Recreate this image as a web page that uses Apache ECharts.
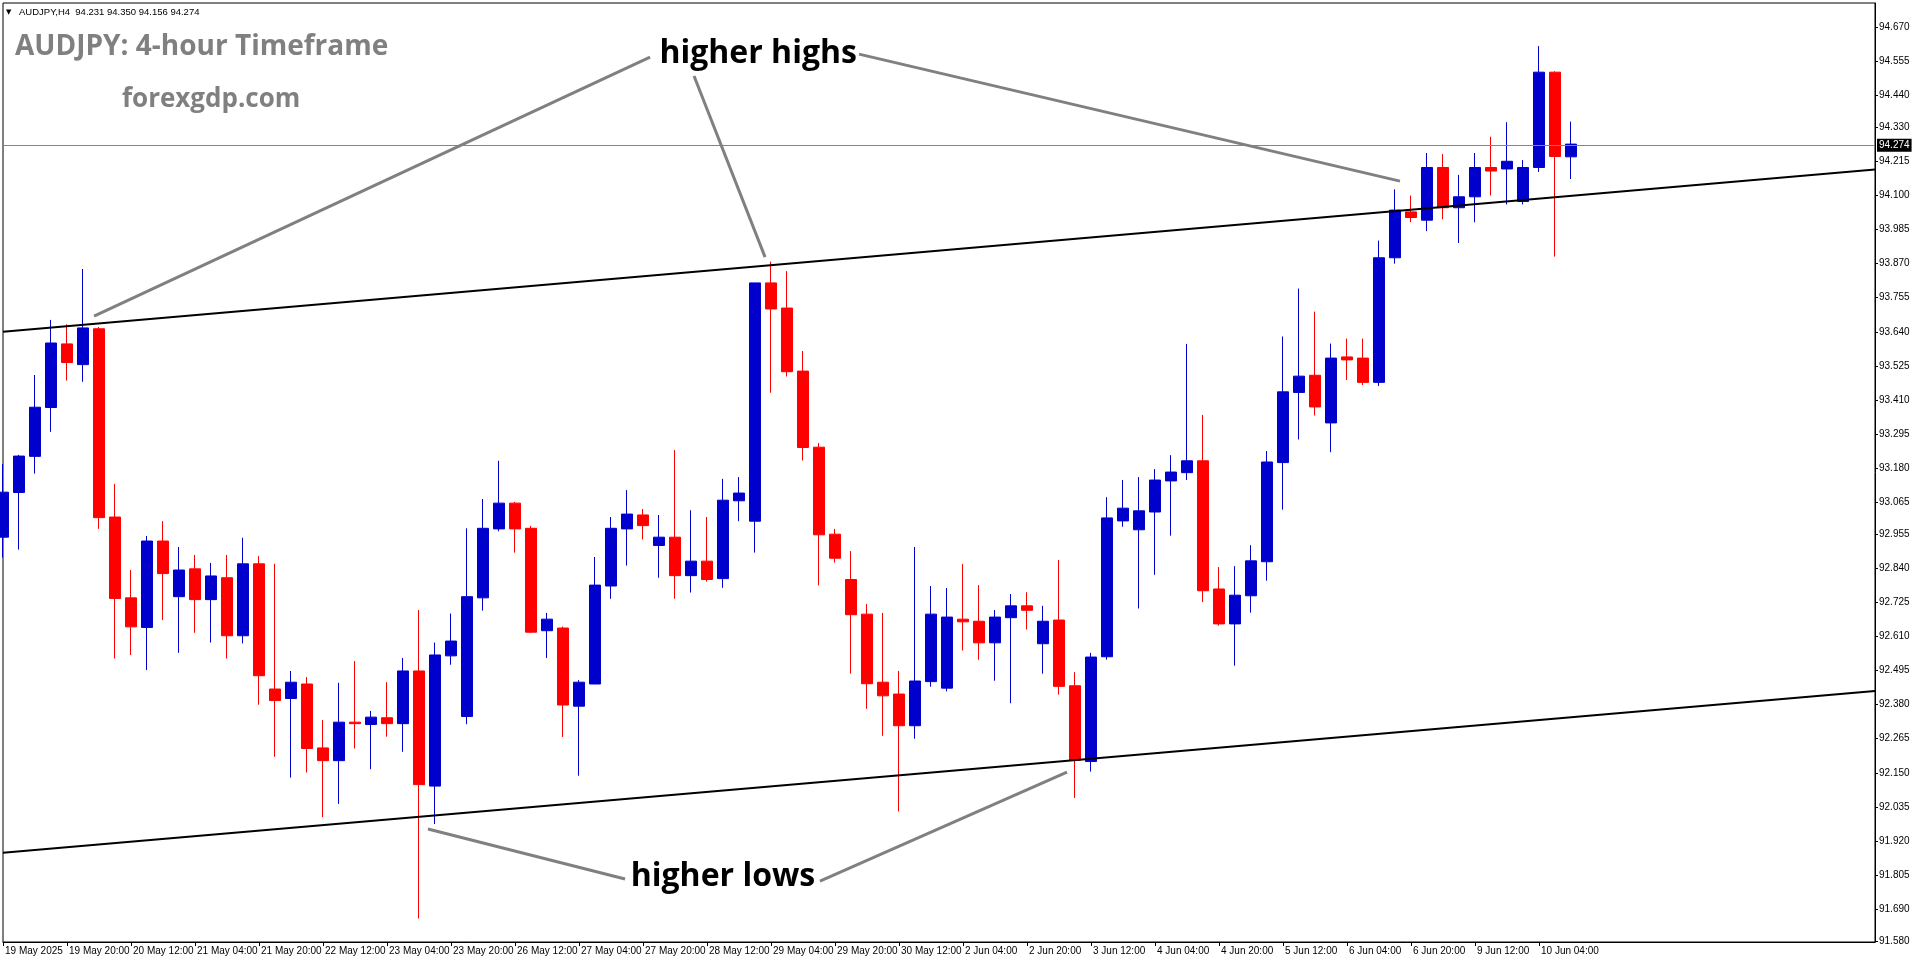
<!DOCTYPE html>
<html><head><meta charset="utf-8">
<script src="https://cdn.jsdelivr.net/npm/echarts@6/dist/echarts.min.js"></script>
<style>html,body{margin:0;padding:0;background:#fff;overflow:hidden}#c{width:1916px;height:964px;}</style>
</head><body><div id="c"></div>
<script>
// ---- data ----
const timeLabels = ['19 May 2025','19 May 20:00','20 May 12:00','21 May 04:00','21 May 20:00','22 May 12:00','23 May 04:00','23 May 20:00','26 May 12:00','27 May 04:00','27 May 20:00','28 May 12:00','29 May 04:00','29 May 20:00','30 May 12:00','2 Jun 04:00','2 Jun 20:00','3 Jun 12:00','4 Jun 04:00','4 Jun 20:00','5 Jun 12:00','6 Jun 04:00','6 Jun 20:00','9 Jun 12:00','10 Jun 04:00'];
const opens  = [92.946,93.097,93.219,93.384,93.599,93.529,93.650,93.014,92.741,92.641,92.933,92.745,92.839,92.735,92.809,92.613,92.856,92.433,92.401,92.450,92.234,92.191,92.321,92.313,92.336,92.316,92.494,92.105,92.545,92.340,92.741,92.974,93.061,92.976,92.630,92.639,92.375,92.450,92.781,92.974,93.021,92.918,92.946,92.816,92.865,92.806,93.069,93.000,93.805,93.720,93.507,93.250,92.956,92.803,92.686,92.456,92.416,92.309,92.458,92.436,92.669,92.662,92.589,92.674,92.714,92.586,92.666,92.444,92.188,92.542,93.001,92.971,93.031,93.136,93.164,93.204,92.771,92.653,92.748,92.863,93.198,93.435,93.493,93.332,93.555,93.551,93.469,93.890,94.045,94.017,94.195,94.059,94.096,94.195,94.190,94.080,94.195,94.517,94.231];
const highs  = [93.193,93.224,93.494,93.680,93.665,93.852,93.656,93.126,92.835,92.950,93.000,92.913,92.886,92.859,92.886,92.944,92.882,92.856,92.494,92.473,92.328,92.454,92.527,92.359,92.456,92.538,92.700,92.590,92.688,92.976,93.075,93.204,93.065,92.984,92.690,92.644,92.463,92.879,93.014,93.105,93.041,93.021,93.240,93.037,93.014,93.143,93.149,93.805,93.877,93.845,93.575,93.264,92.974,92.899,92.720,92.690,92.494,92.913,92.781,92.774,92.855,92.784,92.700,92.754,92.760,92.714,92.869,92.490,92.555,93.081,93.139,93.149,93.176,93.223,93.599,93.359,92.845,92.848,92.919,93.237,93.624,93.786,93.708,93.600,93.617,93.617,93.948,94.121,94.100,94.244,94.240,94.170,94.244,94.299,94.348,94.220,94.605,94.520,94.350];
const lows   = [92.877,92.904,93.161,93.302,93.475,93.471,92.974,92.536,92.548,92.497,92.666,92.555,92.623,92.590,92.536,92.587,92.380,92.204,92.134,92.151,92.000,92.045,92.232,92.162,92.272,92.221,91.658,91.977,92.515,92.314,92.698,92.966,92.894,92.623,92.538,92.271,92.140,92.450,92.738,92.850,92.938,92.809,92.738,92.759,92.796,92.775,93.000,92.894,93.434,93.489,93.205,92.783,92.860,92.485,92.366,92.275,92.019,92.265,92.441,92.425,92.563,92.532,92.461,92.385,92.634,92.485,92.414,92.065,92.154,92.532,92.981,92.705,92.819,92.951,93.139,92.727,92.647,92.512,92.691,92.799,93.039,93.276,93.357,93.233,93.477,93.460,93.457,93.870,94.010,93.980,94.020,93.940,94.010,94.100,94.070,94.070,94.180,93.894,94.156];
const closes = [93.098,93.220,93.385,93.602,93.536,93.653,93.012,92.739,92.643,92.933,92.823,92.835,92.735,92.815,92.613,92.856,92.478,92.394,92.456,92.232,92.191,92.321,92.316,92.338,92.316,92.494,92.110,92.548,92.595,92.745,92.976,93.061,92.974,92.625,92.669,92.379,92.456,92.784,92.976,93.024,92.985,92.946,92.816,92.865,92.803,93.071,93.095,93.805,93.717,93.505,93.249,92.954,92.875,92.684,92.451,92.410,92.309,92.460,92.686,92.676,92.660,92.589,92.676,92.714,92.699,92.662,92.442,92.192,92.541,93.011,93.044,93.035,93.139,93.166,93.204,92.765,92.653,92.750,92.866,93.200,93.437,93.490,93.386,93.551,93.545,93.469,93.890,94.051,94.026,94.195,94.059,94.096,94.195,94.183,94.216,94.195,94.517,94.232,94.274];
const priceTicks = [94.670,94.555,94.440,94.330,94.215,94.100,93.985,93.870,93.755,93.640,93.525,93.410,93.295,93.180,93.065,92.955,92.840,92.725,92.610,92.495,92.380,92.265,92.150,92.035,91.920,91.805,91.690,91.580];
const lastPrice = 94.274;
const headerText = 'AUDJPY,H4  94.231 94.350 94.156 94.274';
const emptySlots = 19;
// trend channel endpoints [barIndex, price]
const upperChannel = [[0, 93.640], [117, 94.188]];
const lowerChannel = [[0, 91.880], [117, 92.426]];
// annotation pointers [[barIndex, price], [barIndex, price]]
const highPointers = [[[40.44, 94.568], [5.69, 93.693]], [[43.19, 94.504], [47.63, 93.892]], [[53.5, 94.578], [87.31, 94.149]]];
const lowPointers  = [[[26.56, 91.960], [38.88, 91.791]], [[51.06, 91.784], [66.5, 92.152]]];
const notes = [{text: 'higher highs', at: [47.2, 94.580]}, {text: 'higher lows', at: [45.0, 91.798]}];

// ---- build ----
const nBars = opens.length;
const categories = [];
for (let k = 0; k < nBars + emptySlots; k++) {
  categories.push(k < nBars && k % 4 === 0 && timeLabels[k / 4] ? timeLabels[k / 4] : '');
}
const ohlc = opens.map((o, i) => [o, closes[i], lows[i], highs[i]]);
const showLabel = (i, v) => v !== '';

const chart = echarts.init(document.getElementById('c'), null, {renderer: 'canvas'});
const option = {
  animation: false,
  backgroundColor: '#ffffff',
  grid: {left: 3, top: 3, right: 41, bottom: 22, show: true, borderColor: '#000', borderWidth: 1, backgroundColor: 'transparent'},
  xAxis: {
    type: 'category', data: categories, boundaryGap: false,
    axisLine: {show: true, lineStyle: {color: '#000', width: 1}},
    axisTick: {show: true, interval: showLabel, length: 4, lineStyle: {color: '#000'}},
    axisLabel: {interval: showLabel, align: 'left', margin: 4, fontSize: 10, fontFamily: 'Liberation Sans', color: '#000', padding: [0, 0, 0, 2], hideOverlap: false},
    splitLine: {show: false}
  },
  yAxis: {
    type: 'value', position: 'right', min: 91.5783, max: 94.7507,
    axisLine: {show: true, lineStyle: {color: '#000'}},
    axisTick: {show: true, customValues: priceTicks, length: 3, lineStyle: {color: '#000'}},
    axisLabel: {customValues: priceTicks, formatter: v => v.toFixed(3), fontSize: 10, fontFamily: 'Liberation Sans', color: '#000', margin: 4},
    splitLine: {show: false}
  },
  series: [
    {
      type: 'candlestick', data: ohlc, barWidth: 11, clip: true,
      itemStyle: {color: '#0000CC', color0: '#FF0000', borderColor: '#0000CC', borderColor0: '#FF0000', borderColorDoji: '#FF0000', borderWidth: 1},
      markLine: {
        silent: true, symbol: 'none', animation: false,
        data: [{yAxis: lastPrice}],
        lineStyle: {color: '#778899', width: 1, type: 'solid'},
        label: {show: true, position: 'end', distance: 2, formatter: lastPrice.toFixed(3), backgroundColor: '#000', color: '#fff', padding: [2, 2, 1, 2], fontSize: 10, fontFamily: 'Liberation Sans'}
      }
    },
    {type: 'line', data: upperChannel, symbol: 'none', silent: true, clip: true, lineStyle: {color: '#000', width: 2}},
    {type: 'line', data: lowerChannel, symbol: 'none', silent: true, clip: true, lineStyle: {color: '#000', width: 2}}
  ]
};
chart.setOption(option);

function toPx(k, p) {
  const a = chart.convertToPixel({xAxisIndex: 0, yAxisIndex: 0}, [0, p]);
  const b = chart.convertToPixel({xAxisIndex: 0, yAxisIndex: 0}, [1, p]);
  return [a[0] + k * (b[0] - a[0]), a[1]];
}
const graphics = [];
highPointers.concat(lowPointers).forEach(seg => {
  const p1 = toPx(seg[0][0], seg[0][1]), p2 = toPx(seg[1][0], seg[1][1]);
  graphics.push({type: 'line', silent: true, z: 50, shape: {x1: p1[0], y1: p1[1], x2: p2[0], y2: p2[1]}, style: {stroke: '#808080', lineWidth: 3}});
});
notes.forEach(n => {
  const p = toPx(n.at[0], n.at[1]);
  graphics.push({type: 'text', silent: true, z: 60, x: p[0], y: p[1], style: {text: n.text, fill: '#000', font: 'bold 32px "Open Sans"', align: 'center', verticalAlign: 'middle'}});
});
graphics.push({type: 'text', silent: true, z: 60, x: 6, y: 12, style: {text: '▼', fill: '#000', font: '7px "DejaVu Sans"', verticalAlign: 'middle'}});
graphics.push({type: 'text', silent: true, z: 60, x: 19, y: 12, style: {text: headerText, fill: '#000', font: '9.5px "Liberation Sans"', verticalAlign: 'middle'}});
graphics.push({type: 'text', silent: true, z: 60, x: 15, y: 47, style: {text: 'AUDJPY: 4-hour Timeframe', fill: '#808080', font: 'bold 28px "Open Sans"', verticalAlign: 'middle'}});
graphics.push({type: 'text', silent: true, z: 60, x: 122, y: 100, style: {text: 'forexgdp.com', fill: '#808080', font: 'bold 26px "Open Sans"', verticalAlign: 'middle'}});
chart.setOption({graphic: graphics});
</script>
</body></html>
